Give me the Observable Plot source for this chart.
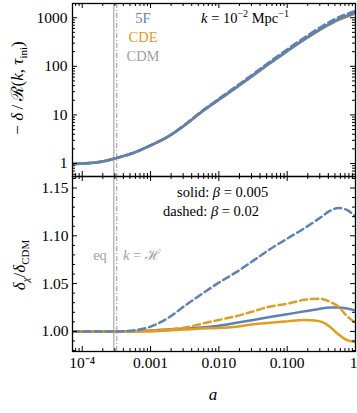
<!DOCTYPE html>
<html><head><meta charset="utf-8">
<script src="https://cdn.jsdelivr.net/npm/d3@7"></script>
<script src="https://cdn.jsdelivr.net/npm/@observablehq/plot@0.6"></script>
<style>
html,body{margin:0;padding:0;background:#fff}
#wrap{position:relative;width:357px;height:413px;overflow:hidden;font-family:"Liberation Serif",serif;background:#fff}
#wrap svg{position:absolute;left:0;overflow:visible}
</style></head><body><div id="wrap"></div>
<script>
// ---------- data ----------
const aGrid = [7.2e-5, 1e-4, 1.8e-4, 3.2e-4, 5.6e-4, 1e-3, 1.8e-3, 3.2e-3, 5.6e-3, 0.01, 0.018, 0.032, 0.056, 0.1, 0.18, 0.32, 0.42, 0.56, 0.75, 1];

// top panel: -delta / R(k, tau_ini)
const growthCDM       = [0.98,1.00,1.07,1.30,1.65,2.35,3.55,6.20,11.50,20.50,36.5,65.0,115.0,203.0,355.0,590,730,900,1060,1230];
const growth5F_solid  = [0.98,1.00,1.07,1.30,1.65,2.35,3.56,6.22,11.55,20.60,36.8,65.8,116.7,206.7,362.5,604,748,922,1085,1257];
const growth5F_dashed = [0.98,1.00,1.07,1.30,1.65,2.36,3.60,6.37,11.95,21.50,38.8,69.8,124.9,222.7,393.0,661,822,1016,1195,1378];
const growthCDE_solid = [0.98,1.00,1.07,1.30,1.65,2.35,3.55,6.21,11.53,20.57,36.7,65.5,116.0,205.1,359.3,596,734,897,1050,1216];
const growthCDE_dashed= [0.98,1.00,1.07,1.30,1.65,2.35,3.56,6.22,11.60,20.75,37.1,66.4,118.0,208.9,366.7,610,753,923,1077,1241];

// bottom panel: delta_chi / delta_CDM
const ratio5F_solid   = [1,1,1,1,1,1.001,1.002,1.003,1.004,1.006,1.009,1.012,1.015,1.018,1.021,1.024,1.025,1.025,1.024,1.022];
const ratio5F_dashed  = [1,1,1,1,1.001,1.005,1.014,1.027,1.039,1.051,1.062,1.074,1.086,1.097,1.108,1.120,1.126,1.129,1.127,1.120];
const ratioCDE_solid  = [1,1,1,1,1,1,1.001,1.002,1.003,1.0035,1.005,1.0075,1.009,1.0105,1.012,1.010,1.005,0.997,0.991,0.989];
const ratioCDE_dashed = [1,1,1,1,1,1.001,1.002,1.004,1.008,1.012,1.016,1.021,1.026,1.029,1.033,1.034,1.031,1.026,1.016,1.009];

const aEq = 2.9e-4;     // matter-radiation equality
const aKH = 3.2e-4;     // k = H

// ticks
const xMajor = [1e-4, 1e-3, 1e-2, 1e-1, 1];
const xMinor = [8e-5, 9e-5].concat(...[1e-4, 1e-3, 1e-2, 1e-1].map(d => [2,3,4,5,6,7,8,9].map(m => m * d)));
const xTickLabels = ["10⁻⁴", "0.001", "0.010", "0.100", "1"];
const yTopMajor = [1, 10, 100, 1000];
const yTopMinor = [0.6,0.7,0.8,0.9].concat(...[1, 10, 100].map(d => [2,3,4,5,6,7,8,9].map(m => m * d)));
const yTopLabels = ["1", "10", "100", "1000"];
const yBotMajor = [1.00, 1.05, 1.10, 1.15];
const yBotMinor = [0.98,0.99,1.01,1.02,1.03,1.04,1.06,1.07,1.08,1.09,1.11,1.12,1.13,1.14,1.16];
const yBotLabels = ["1.00", "1.05", "1.10", "1.15"];

// ---------- styling ----------
const FONT = '"Liberation Serif", "Times New Roman", serif';
const BLUE = "#5E81B5", ORANGE = "#E19C24", GRAY = "#a0a0a0";
const W = 357, ML = 72, MR = 2;
const xDomain = [7.2e-5, 1];
const DASH = "7,4";

const rows = (ys) => aGrid.map((a, i) => ({a, v: ys[i]}));

function frameTicks(yMaj, yMin, frameW, frameH) {
  const s = {stroke: "black", strokeWidth: 1};
  return [
    Plot.tickX(xMajor, {x: d => d, insetTop: frameH - 5, ...s}),
    Plot.tickX(xMajor, {x: d => d, insetBottom: frameH - 5, ...s}),
    Plot.tickX(xMinor, {x: d => d, insetTop: frameH - 3, ...s}),
    Plot.tickX(xMinor, {x: d => d, insetBottom: frameH - 3, ...s}),
    Plot.tickY(yMaj, {y: d => d, insetRight: frameW - 5, ...s}),
    Plot.tickY(yMaj, {y: d => d, insetLeft: frameW - 5, ...s}),
    Plot.tickY(yMin, {y: d => d, insetRight: frameW - 3, ...s}),
    Plot.tickY(yMin, {y: d => d, insetLeft: frameW - 3, ...s})
  ];
}

const vlines = [
  Plot.ruleX([aEq], {x: d => d, stroke: GRAY, strokeWidth: 1.1}),
  Plot.ruleX([aKH], {x: d => d, stroke: GRAY, strokeWidth: 1.1, strokeDasharray: "5,2,1,2"})
];

const lineOpts = (color, dashed) => ({x: "a", y: "v", stroke: color, strokeWidth: 2.5,
  strokeDasharray: dashed ? DASH : null, curve: "catmull-rom", clip: true});

const xFmt = d => xTickLabels[xMajor.indexOf(d)];

// ---------- top panel ----------
const topH = 180, topMT = 3, topMB = 4;
const topPlot = Plot.plot({
  width: W, height: topH, marginLeft: ML, marginRight: MR, marginTop: topMT, marginBottom: topMB,
  style: {fontFamily: FONT, fontSize: "15.5px", color: "black", background: "transparent"},
  x: {type: "log", domain: xDomain, axis: null},
  y: {type: "log", domain: [0.54, 1960], axis: null},
  marks: [
    ...vlines,
    Plot.line(rows(growthCDM), lineOpts(GRAY, false)),
    Plot.line(rows(growthCDE_solid), lineOpts(ORANGE, false)),
    Plot.line(rows(growthCDE_dashed), lineOpts(ORANGE, true)),
    Plot.line(rows(growth5F_solid), lineOpts(BLUE, false)),
    Plot.line(rows(growth5F_dashed), lineOpts(BLUE, true)),
    Plot.axisY(yTopMajor, {tickSize: 0, tickPadding: 5, tickFormat: d => yTopLabels[yTopMajor.indexOf(d)], fontSize: 15.5, label: null}),
    ...frameTicks(yTopMajor, yTopMinor, W - ML - MR, topH - topMT - topMB),
    Plot.frame({stroke: "black", strokeWidth: 1.3})
  ]
});
topPlot.style.top = "0px";

// ---------- bottom panel ----------
const botTop = 173, botH = 240, botMT = 3, botMB = 62;
const botPlot = Plot.plot({
  width: W, height: botH, marginLeft: ML, marginRight: MR, marginTop: botMT, marginBottom: botMB,
  style: {fontFamily: FONT, fontSize: "15.5px", color: "black", background: "transparent"},
  x: {type: "log", domain: xDomain, axis: null},
  y: {type: "linear", domain: [0.979, 1.162], axis: null},
  marks: [
    ...vlines,
    Plot.line(rows(ratio5F_solid), lineOpts(BLUE, false)),
    Plot.line(rows(ratioCDE_solid), lineOpts(ORANGE, false)),
    Plot.line(rows(ratioCDE_dashed), lineOpts(ORANGE, true)),
    Plot.line(rows(ratio5F_dashed), lineOpts(BLUE, true)),
    Plot.axisY(yBotMajor, {tickSize: 0, tickPadding: 4, tickFormat: d => yBotLabels[yBotMajor.indexOf(d)], fontSize: 15.5, label: null}),
    Plot.axisX(xMajor.slice(0, 4), {tickSize: 0, tickPadding: 5, tickFormat: xFmt, fontSize: 15.5, label: null}),
    Plot.axisX(xMajor.slice(4), {tickSize: 0, tickPadding: 5, tickFormat: xFmt, fontSize: 15.5, label: null, dx: -2}),
    ...frameTicks(yBotMajor, yBotMinor, W - ML - MR, botH - botMT - botMB),
    Plot.frame({stroke: "black", strokeWidth: 1.3})
  ]
});
botPlot.style.top = botTop + "px";

const wrap = document.getElementById("wrap");
wrap.appendChild(topPlot);
wrap.appendChild(botPlot);

// ---------- rich-text annotations ----------
function rich(svg, x, y, parts, opts = {}) {
  const t = d3.select(svg).append("text")
    .attr("x", x).attr("y", y)
    .attr("font-family", FONT)
    .attr("font-size", opts.size || 14.5)
    .attr("fill", opts.fill || "black")
    .attr("text-anchor", opts.anchor || "start");
  if (opts.rotate) t.attr("transform", `rotate(-90 ${x} ${y})`);
  for (const p of parts) {
    const s = t.append("tspan").text(p.t);
    if (p.i) s.attr("font-style", "italic");
    if (p.dy) s.attr("dy", p.dy);
    if (p.fs) s.attr("font-size", p.fs);
  }
  return t;
}

// top panel legend + label
rich(topPlot, 143, 23, [{t: "5F"}], {anchor: "middle", fill: BLUE});
rich(topPlot, 143, 42, [{t: "CDE"}], {anchor: "middle", fill: ORANGE});
rich(topPlot, 143, 61, [{t: "CDM"}], {anchor: "middle", fill: GRAY});
rich(topPlot, 245, 23, [
  {t: "k", i: true}, {t: " = 10"}, {t: "−2", dy: -6, fs: 10}, {t: " Mpc", dy: 6}, {t: "−1", dy: -6, fs: 10}
], {anchor: "middle"});
rich(topPlot, 23, 88, [
  {t: "− "}, {t: "δ", i: true}, {t: "\u2009/\u2009ℛ("}, {t: "k", i: true}, {t: ", "}, {t: "τ", i: true},
  {t: "ini", dy: 4, fs: 11}, {t: ")", dy: -4}
], {anchor: "middle", size: 17, rotate: true});

// bottom panel annotations
rich(botPlot, 177, 24, [{t: "solid: "}, {t: "β", i: true}, {t: " = 0.005"}]);
rich(botPlot, 163, 43, [{t: "dashed: "}, {t: "β", i: true}, {t: " = 0.02"}]);
rich(botPlot, 100, 87, [{t: "eq"}], {anchor: "middle", fill: GRAY});
rich(botPlot, 123, 87, [{t: "k", i: true}, {t: " = ℋ"}], {fill: GRAY});
rich(botPlot, 25, 92, [
  {t: "δ", i: true}, {t: "χ", i: true, dy: 4, fs: 11}, {t: "/", dy: -4}, {t: "δ", i: true}, {t: "CDM", dy: 4, fs: 11}
], {anchor: "middle", size: 17, rotate: true});
rich(botPlot, 213, 227, [{t: "a", i: true}], {anchor: "middle", size: 17});
</script></body></html>
